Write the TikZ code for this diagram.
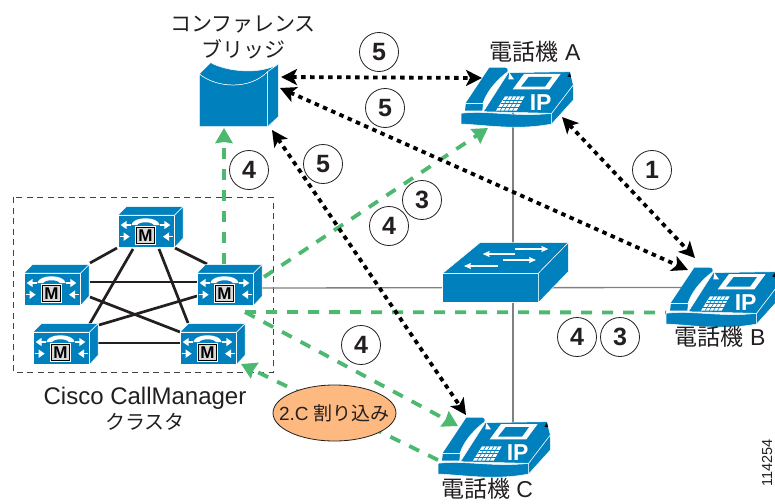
\documentclass[tikz,border=0pt]{standalone}
\usepackage{fontspec}
\setmainfont{Liberation Sans}
\newfontfamily\jp{Noto Sans CJK JP}
\usetikzlibrary{calc,arrows.meta}
\definecolor{devblue}{HTML}{0080BC}
\definecolor{flowgreen}{HTML}{4DB870}
\definecolor{wire}{HTML}{808080}
\definecolor{ink}{HTML}{231F20}
\definecolor{peach}{HTML}{FDB97F}
\tikzset{
  devnode/.style={inner sep=0pt,outer sep=0pt,draw=none},
  dotlink/.style={draw=black,line width=3.8pt,dash pattern=on 4.5pt off 4.5pt,
    {Stealth[length=16pt,width=16pt,inset=4pt]}-{Stealth[length=16pt,width=16pt,inset=4pt]}},
  greenlink/.style={draw=flowgreen,line width=3.8pt,dash pattern=on 11pt off 10pt},
  greentip/.style={-{Stealth[length=15pt,width=17pt,inset=1pt,flowgreen]}},
  wireline/.style={draw=wire,line width=1.3pt},
  meshline/.style={draw=ink,line width=2.7pt},
  stepcircle/.style={circle,draw=ink,line width=0.8pt,minimum size=39pt,inner sep=0pt,fill=white,
    text=ink,font=\fontsize{25}{25}\selectfont\bfseries},
  lab/.style={text=ink,align=center,inner sep=0pt,font=\fontsize{21}{25}\selectfont},
  phonelab/.style={text=ink,inner sep=0pt,font=\fontsize{23}{25}\selectfont},
  blueface/.style={fill=devblue,draw=white,line width=0.5pt,line join=round},
  phone/.pic={
    \begin{scope}[shift={(-67.5,-68)},scale=1/3]
      \path[blueface] (100,245)--(175,128)--(360,125)--(370,165)--(305,250)--cycle;
      \path[blueface] (305,250)--(370,165)--(370,210)--(305,282)--cycle;
      \path[blueface] (33,250) .. controls (110,240) and (200,262) .. (305,250) -- (305,282)
         .. controls (200,302) and (110,285) .. (33,282) -- cycle;
      \path[fill=devblue] (48,218)--(118,113)--(165,113)..controls (175,113) and (175,125) .. (168,130)
         .. controls (130,160) and (110,190) .. (100,218)--(97,242)--(45,242)--cycle;
      \draw[white,line width=0.8pt] (100,240)--(100,218) .. controls (110,190) and (130,160) .. (170,128);
      \draw[white,line width=0.8pt] (48,220)--(100,220);
      \fill[white] (178,128)--(192,148)--(175,148)--cycle;
      \fill[black] (352,140)--(360,128)--(363,142)--cycle;
      \fill[white] (188,178)--(222,132)--(332,132)--(298,178)--cycle;
      \fill[devblue] (213,170)--(236,141)--(306,141)--(285,170)--cycle;
      \fill[white] (138,242)--(165,199)--(224,199)--(200,242)--cycle;
      \foreach \k in {1,2,3}{\draw[devblue,line width=0.6pt] ($(138,242)!\k/4!(165,199)$)--($(200,242)!\k/4!(224,199)$);}
      \foreach \k in {1,2,3,4}{\draw[devblue,line width=0.6pt] ($(138,242)!\k/5!(200,242)$)--($(165,199)!\k/5!(224,199)$);}
      \node[text=white,inner sep=0pt,font=\fontsize{23}{23}\selectfont\bfseries] at (272,218) {IP};
    \end{scope}
  },
  cmbox/.pic={
    \begin{scope}[shift={(-32.5,-12)},scale=1/3]
      \path[blueface] (0,0)--(25,-25)--(195,-25)--(170,0)--cycle;
      \path[blueface] (170,0)--(195,-25)--(195,70)--(170,97)--cycle;
      \path[blueface] (0,0) rectangle (170,97);
      \fill[white] (40,30) .. controls (45,3) and (120,3) .. (125,30) -- (108,30) .. controls (100,19) and (65,19) .. (57,30) -- cycle;
      \fill[white] (50,33) rectangle (115,90);
      \draw[black,line width=0.5pt,fill=black!15] (56,38) rectangle (109,85);
      \node[text=black,inner sep=0pt,font=\fontsize{17}{17}\selectfont\bfseries] at (82.5,62) {M};
      \draw[white,line width=1.5pt,-{Triangle[length=6pt,width=8pt]}] (38,30)--(8,30);
      \draw[white,line width=1.5pt,-{Triangle[length=6pt,width=8pt]}] (127,30)--(157,30);
      \draw[white,line width=1.5pt,-{Triangle[length=6pt,width=8pt]}] (5,65)--(35,65);
      \draw[white,line width=1.5pt,-{Triangle[length=6pt,width=8pt]}] (165,65)--(135,65);
    \end{scope}
  },
  bridgeicon/.pic={
    \begin{scope}[shift={(-68.5,-95)},scale=1/3]
      \path[blueface] (88,222)--(122,188) .. controls (170,215) and (270,225) .. (325,192)--(293,215)
         .. controls (240,270) and (140,265) .. (88,222)--cycle;
      \path[blueface] (88,222) .. controls (140,265) and (240,270) .. (293,215)--(293,380)--(88,380)--cycle;
      \path[blueface] (293,215)--(325,192)--(325,350)--(293,380)--cycle;
    \end{scope}
  },
  switchicon/.pic={
    \begin{scope}[shift={(-75.5,-43)},scale=1/3]
      \path[blueface] (38,130)--(150,38)--(415,38)--(325,130)--cycle;
      \path[blueface] (38,130) rectangle (325,218);
      \path[blueface] (325,130)--(415,38)--(415,125)--(325,218)--cycle;
      \foreach \a/\b/\c in {255/355/57,255/158/72,218/318/90,205/102/108}{
        \draw[white,line width=1.1pt,-{Stealth[length=7pt,width=6pt,inset=1pt]}] (\a,\c)--(\b,\c);}
    \end{scope}
  }
}
\begin{document}
\begin{tikzpicture}[x=1pt,y=-1pt]
\clip (0,0) rectangle (775,503);
\fill[white] (0,0) rectangle (775,503);
% device anchors
\node[devnode,minimum width=80pt,minimum height=64pt] (bridge) at (238.5,95) {};
\node[devnode,minimum width=113pt,minimum height=62pt] (phA) at (517.5,98) {};
\node[devnode,minimum width=113pt,minimum height=62pt] (phB) at (722.5,298) {};
\node[devnode,minimum width=113pt,minimum height=62pt] (phC) at (494.5,448) {};
\node[devnode,minimum width=125pt,minimum height=60pt] (sw) at (505.5,273) {};
\node[devnode,minimum width=65pt,minimum height=40pt] (cmT) at (150.5,227) {};
\node[devnode,minimum width=65pt,minimum height=40pt] (cmL) at (56.5,285) {};
\node[devnode,minimum width=65pt,minimum height=40pt] (cmR) at (229.5,285) {};
\node[devnode,minimum width=65pt,minimum height=40pt] (cmBL) at (65.5,344) {};
\node[devnode,minimum width=65pt,minimum height=40pt] (cmBR) at (212.5,344) {};
% cluster frame
\draw[ink!85,line width=0.8pt,dash pattern=on 6pt off 4.5pt] (13,197) rectangle (273,372);
% network wires
\draw[wireline] ($(phA)+(-4.5,0)$) -- ($(phC)+(18.5,0)$);
\draw[wireline] ($(cmR)+(0,3)$) -- ($(phB)+(-30,-10.5)$);
% mesh
\draw[meshline] ($(cmT)+(-33.5,21)$) -- ($(cmL)+(33.5,-22)$);
\draw[meshline] ($(cmT)+(24.5,21)$) -- ($(cmR)+(-22.5,-21)$);
\draw[meshline] ($(cmT)+(-17.5,22)$) -- ($(cmBL)+(19.5,-12)$);
\draw[meshline] ($(cmT)+(8.5,22)$) -- ($(cmBR)+(-24.5,-21)$);
\draw[meshline] ($(cmL)+(33.5,-3)$) -- ($(cmR)+(-32.5,-3)$);
\draw[meshline] ($(cmL)+(33.5,12)$) -- ($(cmBR)+(-32.5,-12)$);
\draw[meshline] ($(cmR)+(-32.5,11)$) -- ($(cmBL)+(33.5,-19)$);
\draw[meshline] ($(cmBL)+(30.5,-1)$) -- ($(cmBR)+(-30.5,-1)$);
% green flows
\draw[greenlink,greentip] ($(cmR)+(-5.5,-21)$) -- ($(bridge)+(-14.5,33)$);
\draw[greenlink,greentip] ($(cmR)+(34.5,-8)$) -- ($(phA)+(-29.5,30)$);
\draw[greenlink] ($(cmR)+(15.5,27)$) -- ($(phB)+(-56.5,14.5)$);
\draw[greenlink,greentip] ($(cmR)+(15.5,27)$) -- ($(phC)+(-36.5,-22)$);
\draw[greenlink,greentip] ($(phC)+(-56.5,12)$) -- ($(cmBR)+(28.5,20)$);
% black flows
\draw[dotlink] ($(bridge)+(42.5,-18)$) -- ($(phA)+(-35.5,-20)$);
\draw[dotlink] ($(bridge)+(41.5,-7)$) -- ($(phB)+(-34.5,-28)$);
\draw[dotlink] ($(bridge)+(33.5,35)$) -- ($(phC)+(-28.5,-33)$);
\draw[dotlink] ($(phA)+(44.5,19)$) -- ($(phB)+(-27.5,-40)$);
% icons
\pic at (bridge) {bridgeicon};
\pic at (phA) {phone};
\pic at (phB) {phone};
\pic at (phC) {phone};
\pic at (sw) {switchicon};
\pic at (cmT) {cmbox};
\pic at (cmL) {cmbox};
\pic at (cmR) {cmbox};
\pic at (cmBL) {cmbox};
\pic at (cmBR) {cmbox};
% interrupt ellipse
\draw[ink,line width=0.8pt,fill=peach] (334.5,413) ellipse [x radius=61.5pt,y radius=28pt];
\node[text=ink,inner sep=0pt,font=\fontsize{19}{19}\selectfont] (intr) at (334.5,413) {2.C {\jp 割り込み}};
% steps
\node[stepcircle] (s5a) at (379,52) {5};
\node[stepcircle] (s5b) at (385,108) {5};
\node[stepcircle] (s5c) at (323,164) {5};
\node[stepcircle] (s4a) at (249,170) {4};
\node[stepcircle] (s3a) at (422,200) {3};
\node[stepcircle] (s4b) at (389,226) {4};
\node[stepcircle] (s1) at (652,170) {1};
\node[stepcircle] (s4c) at (361,345) {4};
\node[stepcircle] (s4d) at (577,337) {4};
\node[stepcircle] (s3b) at (620,337) {3};
% labels
\node[lab] (lbridge) at (243,37) {{\jp コンファレンス}\\[1pt]{\jp ブリッジ}};
\node[phonelab] (la) at (535,52) {{\jp 電話機} A};
\node[phonelab] (lb) at (720,337) {{\jp 電話機} B};
\node[phonelab] (lc) at (487,489) {{\jp 電話機} C};
\node[lab] (lcl) at (145,409) {\fontsize{24}{27}\selectfont Cisco CallManager\\{\fontsize{20}{24}\selectfont\jp クラスタ}};
\node[rotate=90,text=ink,inner sep=0pt,font=\fontsize{14.5}{14.5}\selectfont] (fig) at (767,463) {114254};
\end{tikzpicture}
\end{document}
